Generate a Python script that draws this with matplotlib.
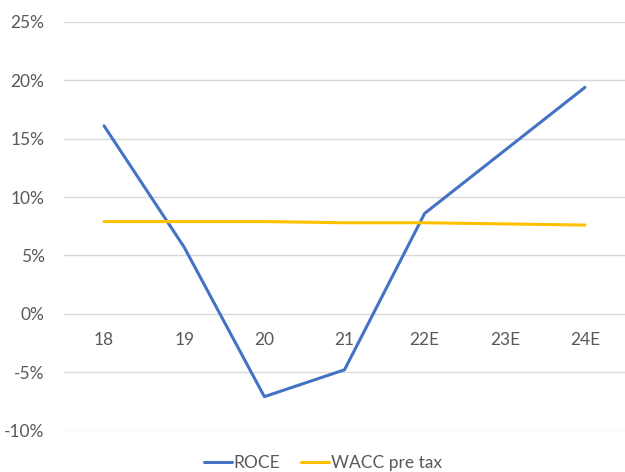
import numpy as np
import matplotlib.pyplot as plt
from matplotlib.ticker import FuncFormatter

# Dados
categorias = ['18', '19', '20', '21', '22E', '23E', '24E']
roce = [16.1, 5.7, -7.1, -4.8, 8.6, 14.0, 19.4]
wacc_pre_tax = [7.9, 7.9, 7.9, 7.8, 7.8, 7.7, 7.6]

cor_texto = '#595959'
plt.rcParams['font.family'] = ['Lato', 'DejaVu Sans']

fig = plt.figure(figsize=(6.25, 4.72), dpi=100)
ax = fig.add_axes([64 / 625, 1 - 430.5 / 472, 1 - 64 / 625, (430.5 - 22) / 472])

x = np.arange(len(categorias))
ax.plot(x, roce, color='#4472C4', lw=2.2, label='ROCE', solid_capstyle='round', zorder=3)
ax.plot(x, wacc_pre_tax, color='#FFC000', lw=2.2, label='WACC pre tax', solid_capstyle='round', zorder=3)

ax.set_xlim(-0.5, len(categorias) - 0.5)
ax.set_ylim(-10, 25)
ax.set_yticks(np.arange(-10, 26, 5))
ax.yaxis.set_major_formatter(FuncFormatter(lambda v, p: f'{v:.0f}%'))
ax.grid(axis='y', color='#D9D9D9', lw=1)
ax.set_axisbelow(True)

# eixo x cruza no zero
ax.spines['bottom'].set_position(('data', 0))
for s in ax.spines.values():
    s.set_visible(False)
ax.set_xticks(x)
ax.set_xticklabels(categorias)
ax.tick_params(axis='x', length=0, pad=13, labelsize=12.5, labelcolor=cor_texto)
ax.tick_params(axis='y', length=0, pad=14, labelsize=12.5, labelcolor=cor_texto)

fig.legend(loc='center', bbox_to_anchor=(323 / 625, 1 - 463 / 472), ncol=2, frameon=False,
           fontsize=12.5, labelcolor=cor_texto, handlelength=1.6, handletextpad=0.1,
           columnspacing=1.2)

fig.savefig('out.png', dpi=100)
